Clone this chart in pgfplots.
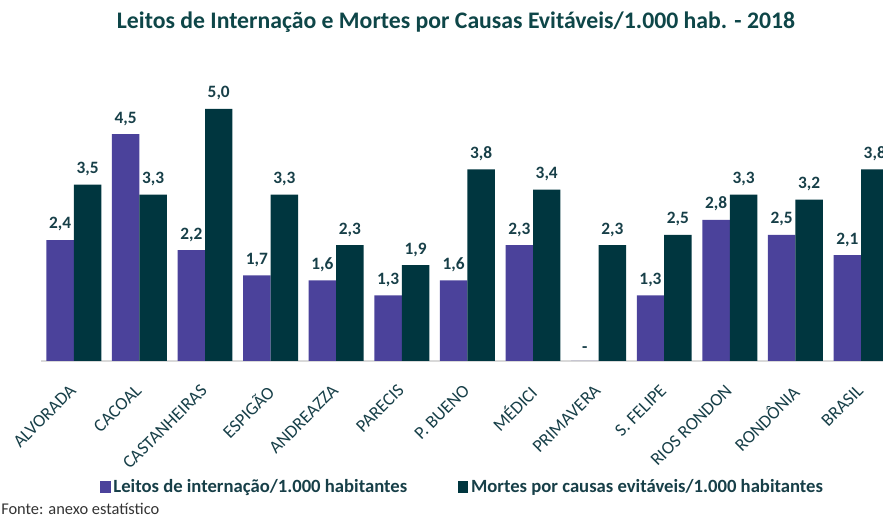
\documentclass[border=0pt]{standalone}
\usepackage{pgfplots}
\pgfplotsset{compat=1.18}
\usepackage{pgfplotstable}
\usepackage{fontspec}
\setmainfont{Carlito}
\definecolor{cpurple}{HTML}{4B429B}
\definecolor{cteal}{HTML}{00363F}
\definecolor{ctext}{HTML}{173F48}
\definecolor{ctitle}{HTML}{0E4648}

\pgfplotstableread{
x  y    lab
0  2.4  {2,4}
1  4.5  {4,5}
2  2.2  {2,2}
3  1.7  {1,7}
4  1.6  {1,6}
5  1.3  {1,3}
6  1.6  {1,6}
7  2.3  {2,3}
8  0    {-}
9  1.3  {1,3}
10 2.8  {2,8}
11 2.5  {2,5}
12 2.1  {2,1}
}\leitos
\pgfplotstableread{
x  y    lab
0  3.5  {3,5}
1  3.3  {3,3}
2  5.0  {5,0}
3  3.3  {3,3}
4  2.3  {2,3}
5  1.9  {1,9}
6  3.8  {3,8}
7  3.4  {3,4}
8  2.3  {2,3}
9  2.5  {2,5}
10 3.3  {3,3}
11 3.2  {3,2}
12 3.8  {3,8}
}\mortes

\begin{document}
\begin{tikzpicture}
\begin{axis}[
  at={(30.75pt,117pt)}, anchor=south west,
  scale only axis,
  width=631.5pt, height=210.75pt,
  xmin=-0.5, xmax=12.335,
  ymin=0, ymax=5.575,
  ybar=0pt, bar width=20.6pt,
  axis y line=none,
  axis x line*=bottom,
  x axis line style={draw=gray!30, line width=1pt},
  xtick={0,...,12},
  xticklabels={ALVORADA,CACOAL,CASTANHEIRAS,ESPIGÃO,ANDREAZZA,PARECIS,P. BUENO,MÉDICI,PRIMAVERA,S. FELIPE,RIOS RONDON,RONDÔNIA,BRASIL},
  xtick style={draw=none},
  xticklabel style={rotate=45, anchor=north east, font=\fontsize{13.5}{15}\selectfont, text=ctext, inner sep=1pt, xshift=-10.5pt, yshift=-5pt},
  nodes near coords={\pgfplotspointmeta},
  point meta=explicit symbolic,
  every node near coord/.append style={font=\bfseries\fontsize{13}{15}\selectfont, text=ctext, yshift=3pt},
  legend style={at={(0.501,-0.448)}, anchor=center, draw=none, legend columns=2,
    font=\bfseries\fontsize{14}{16}\selectfont, text=ctext,
    /tikz/every even column/.append style={column sep=36pt}},
  legend image code/.code={\fill[#1] (0pt,-4.5pt) rectangle (8pt,4.5pt);},
]
\addplot[fill=cpurple, draw=none] table[x=x, y=y, meta=lab] {\leitos};
\addplot[fill=cteal, draw=none] table[x=x, y=y, meta=lab] {\mortes};
\legend{Leitos de internação/1.000 habitantes, Mortes por causas evitáveis/1.000 habitantes}
\end{axis}
\node[anchor=center, font=\bfseries\fontsize{17.8}{20}\selectfont, text=ctitle] at (342pt,371pt) {Leitos de Internação e Mortes por Causas Evitáveis/1.000 hab. - 2018};
\node[anchor=west, font=\fontsize{12.3}{14}\selectfont, text=black!80, inner sep=0pt] at (0.75pt,6pt) {Fonte: anexo estatístico};
\pgfresetboundingbox
\path (0pt,0pt) rectangle (662.25pt,387.75pt);
\end{tikzpicture}
\end{document}
